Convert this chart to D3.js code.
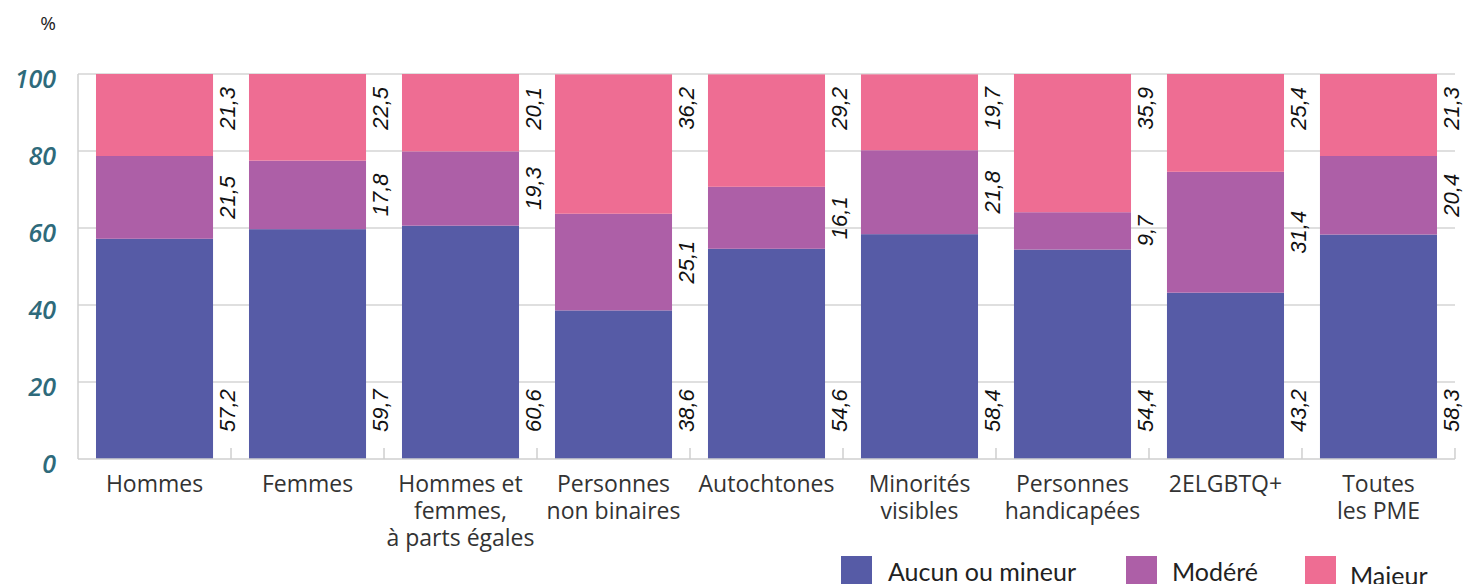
<!DOCTYPE html>
<html>
<head>
<meta charset="utf-8">
<script src="https://cdn.jsdelivr.net/npm/d3@7"></script>
<style>
  body { margin: 0; background: #fff; }
  svg { display: block; }
</style>
</head>
<body>
<div id="chart"></div>
<script>
// categories, one line per label row
var categories = [
  ["Hommes"],
  ["Femmes"],
  ["Hommes et", "femmes,", "à parts égales"],
  ["Personnes", "non binaires"],
  ["Autochtones"],
  ["Minorités", "visibles"],
  ["Personnes", "handicapées"],
  ["2ELGBTQ+"],
  ["Toutes", "les PME"]
];
var aucun  = [57.2, 59.7, 60.6, 38.6, 54.6, 58.4, 54.4, 43.2, 58.3];
var modere = [21.5, 17.8, 19.3, 25.1, 16.1, 21.8, 9.7, 31.4, 20.4];
var majeur = [21.3, 22.5, 20.1, 36.2, 29.2, 19.7, 35.9, 25.4, 21.3];
var seriesNames = ["Aucun ou mineur", "Modéré", "Majeur"];
var yTicks = [0, 20, 40, 60, 80, 100];

var colors = ["#565ba6", "#ad5fa7", "#ee6d93"];

var W = 1465, H = 584;
var svg = d3.select("#chart").append("svg").attr("width", W).attr("height", H);

var x = d3.scaleBand()
  .domain(d3.range(categories.length))
  .range([78, 1455])
  .paddingInner(0.235)
  .paddingOuter(0.1176);
var y = d3.scaleLinear().domain([0, 100]).range([459, 74]);
var gap = (x.step() - x.bandwidth()) / 2;

// gridlines
svg.append("g")
  .selectAll("line")
  .data(yTicks.filter(function(d){ return d > 0; }))
  .enter().append("line")
  .attr("x1", 78).attr("x2", 1455)
  .attr("y1", function(d){ return y(d); })
  .attr("y2", function(d){ return y(d); })
  .attr("stroke", "#d4d4d4").attr("stroke-width", 1.5);

// y labels
svg.append("g")
  .selectAll("text")
  .data(yTicks)
  .enter().append("text")
  .attr("x", 56)
  .attr("y", function(d){ return y(d) + 5; })
  .attr("dy", "0.35em")
  .attr("text-anchor", "end")
  .style("font-family", "'Open Sans', sans-serif")
  .style("font-style", "italic")
  .style("font-weight", 600)
  .style("font-size", "25px")
  .style("fill", "#2e6a7b")
  .text(function(d){ return d; });

svg.append("text")
  .attr("x", 56).attr("y", 30)
  .attr("text-anchor", "end")
  .style("font-family", "'Open Sans', sans-serif")
  .style("font-size", "19px")
  .style("fill", "#222")
  .text("%");

// stacked bars
var rows = categories.map(function(c, i){
  return { i: i, aucun: aucun[i], modere: modere[i], majeur: majeur[i] };
});
var stack = d3.stack().keys(["aucun", "modere", "majeur"]);
var layers = stack(rows);

svg.append("g")
  .selectAll("g")
  .data(layers)
  .enter().append("g")
  .attr("fill", function(d, k){ return colors[k]; })
  .selectAll("rect")
  .data(function(d){ return d; })
  .enter().append("rect")
  .attr("x", function(d){ return x(d.data.i); })
  .attr("width", x.bandwidth())
  .attr("y", function(d){ return y(d[1]); })
  .attr("height", function(d){ return y(d[0]) - y(d[1]); });

// axes lines
svg.append("line")
  .attr("x1", 78).attr("x2", 78).attr("y1", 74).attr("y2", 459)
  .attr("stroke", "#cfcfcf").attr("stroke-width", 1.5);
svg.append("line")
  .attr("x1", 78).attr("x2", 1455).attr("y1", 459).attr("y2", 459)
  .attr("stroke", "#cfcfcf").attr("stroke-width", 1.5);
svg.append("g")
  .selectAll("line")
  .data(rows)
  .enter().append("line")
  .attr("x1", function(d){ return x(d.i) + x.bandwidth() + gap; })
  .attr("x2", function(d){ return x(d.i) + x.bandwidth() + gap; })
  .attr("y1", 448).attr("y2", 459)
  .attr("stroke", "#cfcfcf").attr("stroke-width", 1.5);

// value labels, rotated, in the gap right of each bar
function fmt(v){ return String(v).replace(".", ","); }
var labels = [];
layers.forEach(function(layer, k){
  layer.forEach(function(d){
    var lx = x(d.data.i) + x.bandwidth() + 22;
    var ly, anchor;
    if (k === 0) { ly = y(0) - 27; anchor = "start"; }
    else if (k === 2) { ly = y(100) + 13; anchor = "end"; }
    else { ly = (y(d[0]) + y(d[1])) / 2; anchor = "middle"; }
    labels.push({ x: lx, y: ly, anchor: anchor, raw: [aucun, modere, majeur][k][d.data.i] });
  });
});
svg.append("g")
  .selectAll("text")
  .data(labels)
  .enter().append("text")
  .attr("transform", function(d){ return "translate(" + d.x + "," + d.y + ") rotate(-90)"; })
  .attr("text-anchor", function(d){ return d.anchor; })
  .style("font-family", "'Liberation Sans', Arial, sans-serif")
  .style("font-style", "italic")
  .style("font-size", "22px")
  .style("fill", "#111")
  .text(function(d){ return fmt(d.raw); });

// category labels
var cat = svg.append("g")
  .selectAll("text")
  .data(categories)
  .enter().append("text")
  .attr("x", function(d, i){ return x(i) + x.bandwidth() / 2; })
  .attr("y", 492)
  .attr("text-anchor", "middle")
  .style("font-family", "'Open Sans', sans-serif")
  .style("font-size", "23px")
  .style("fill", "#333");
cat.selectAll("tspan")
  .data(function(d){ return d; })
  .enter().append("tspan")
  .attr("x", function(){ return d3.select(this.parentNode).attr("x"); })
  .attr("dy", function(d, j){ return j === 0 ? 0 : 27; })
  .text(function(d){ return d; });

// legend
var legX = [841, 1126, 1305];
var legT = [888, 1172, 1350];
var leg = svg.append("g")
  .selectAll("g")
  .data(seriesNames)
  .enter().append("g");
leg.append("rect")
  .attr("x", function(d, i){ return legX[i]; })
  .attr("y", 556)
  .attr("width", 31).attr("height", 30)
  .attr("fill", function(d, i){ return colors[i]; });
leg.append("text")
  .attr("x", function(d, i){ return legT[i]; })
  .attr("y", function(d, i){ return i === 2 ? 585 : 581; })
  .style("font-family", "Lato, sans-serif")
  .style("font-size", "25px")
  .style("fill", "#222")
  .text(function(d){ return d; });
</script>
</body>
</html>
